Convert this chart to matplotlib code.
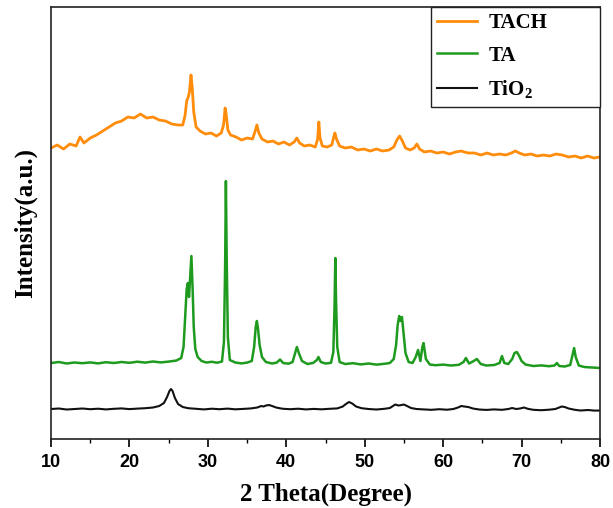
"""XRD patterns of TiO2, TA and TACH (stacked, arbitrary intensity units)."""

import matplotlib
matplotlib.use("Agg")
import matplotlib.pyplot as plt
from matplotlib.ticker import MultipleLocator

plt.rcParams["mathtext.fontset"] = "custom"
plt.rcParams["mathtext.rm"] = "Liberation Serif:bold"
plt.rcParams["mathtext.it"] = "Liberation Serif:bold"
plt.rcParams["mathtext.bf"] = "Liberation Serif:bold"

# --- data (2 theta in degrees, intensity in a.u.) ---
two_theta_tio2 = [10, 11, 12, 13, 14, 15, 16, 17, 18, 19, 20, 21, 22, 23, 23.8,
                  24.4, 24.8, 25.1, 25.3, 25.5, 25.8, 26.2, 26.8, 27.5, 28.5,
                  29.5, 30.5, 31.5, 32.5, 33.5, 34.5, 35.5, 36.3, 36.8, 37.1,
                  37.4, 37.8, 38.2, 38.7, 39.5, 40.5, 41.5, 42.5, 43.5, 44.5,
                  45.5, 46.5, 47.2, 47.6, 48.0, 48.4, 48.9, 49.6, 50.5, 51.5,
                  52.5, 53.2, 53.6, 53.9, 54.3, 54.7, 55.0, 55.4, 55.9, 56.6,
                  57.5, 58.5, 59.5, 60.5, 61.3, 61.9, 62.3, 62.7, 63.2, 63.8,
                  64.6, 65.5, 66.5, 67.5, 68.3, 68.8, 69.3, 69.8, 70.3, 70.8,
                  71.5, 72.5, 73.5, 74.3, 74.8, 75.1, 75.5, 76.0, 76.8, 77.5,
                  78.5, 79.3, 80]
intensity_tio2 = [28, 28.5, 27.5, 28, 28.5, 27.8, 28.3, 27.6, 28.2, 28.6, 27.9,
                  28.4, 28.8, 29.5, 31, 34, 40, 46, 48, 46, 39, 33, 30, 28.8,
                  28.2, 27.6, 28.3, 27.8, 28.4, 27.7, 28.1, 28.6, 29.5, 31,
                  30.5, 31.5, 32, 31, 29.5, 28.3, 27.8, 28.3, 27.6, 28.1, 27.7,
                  28.2, 28.6, 30.5, 33, 35, 33.5, 30.5, 28.8, 28.0, 27.5, 28.2,
                  29.0, 31, 32.5, 31.5, 32, 32.5, 31, 29, 28, 27.6, 27.2, 27.8,
                  27.3, 28, 29.5, 31, 30.5, 30, 28.5, 27.5, 27.1, 27.6, 27.2,
                  28, 29, 28, 28.5, 29.5, 28.2, 27.2, 26.8, 27.3, 28, 29.5,
                  30.5, 30, 28.5, 27.2, 26.5, 27, 26.4, 26.5]

two_theta_ta = [10, 11, 12, 13, 14, 15, 16, 17, 18, 19, 20, 21, 22, 23, 24, 25,
                26, 26.6, 26.9, 27.1, 27.3, 27.45, 27.6, 27.75, 27.9, 28.05,
                28.2, 28.4, 28.7, 29.2, 29.8, 30.5, 31.2, 31.8, 32.05, 32.2,
                32.3, 32.4, 32.55, 32.8, 33.5, 34.3, 35.0, 35.6, 35.9, 36.1,
                36.25, 36.4, 36.6, 36.9, 37.4, 38.2, 38.8, 39.2, 39.6, 40.3,
                40.8, 41.1, 41.35, 41.6, 42.0, 42.7, 43.4, 43.9, 44.1, 44.4,
                45.0, 45.7, 46.0, 46.15, 46.25, 46.35, 46.5, 46.8, 47.5, 48.5,
                49.5, 50.5, 51.5, 52.5, 53.2, 53.7, 54.0, 54.2, 54.4, 54.55,
                54.75, 54.95, 55.2, 55.6, 56.1, 56.5, 56.8, 57.1, 57.35, 57.5,
                57.8, 58.3, 59.0, 60.0, 61.0, 62.0, 62.6, 62.9, 63.3, 63.9,
                64.3, 64.8, 65.5, 66.5, 67.2, 67.5, 67.8, 68.3, 68.8, 69.1,
                69.4, 69.7, 70.0, 70.5, 71.5, 72.5, 73.5, 74.2, 74.5, 74.8,
                75.5, 76.2, 76.5, 76.7, 76.9, 77.3, 78.0, 79.0, 80]
intensity_ta = [74, 75, 73.5, 74.5, 73.8, 74.6, 73.6, 74.8, 74, 75, 74.2, 75.3,
                74.4, 75.5, 74.6, 75.4, 76.5, 79, 90, 120, 148, 154, 140, 160,
                181, 150, 110, 88, 80, 76, 74.5, 75.2, 74.3, 75.5, 95, 170,
                256, 180, 100, 77, 74.5, 73.6, 74.4, 76, 90, 110, 116, 108, 92,
                80, 75, 73.5, 74.5, 77.5, 74, 73.3, 75, 83, 90, 84, 76, 73, 74,
                77, 80, 75, 73.5, 74.2, 85, 130, 179, 135, 90, 75, 73, 73.8,
                72.6, 73.5, 72.4, 73.2, 74, 78, 92, 112, 121, 116, 120, 104,
                84, 75, 74, 80, 87, 76, 90, 94, 78, 72.5, 71.8, 72.4, 71.5,
                72.2, 75, 79, 73.5, 76, 78, 73, 71.5, 72, 74, 81, 74, 73, 78,
                84, 85, 81, 76, 72.5, 71, 71.6, 70.8, 71.5, 74, 71, 70.5, 72,
                82, 89, 80, 71.5, 70, 69.5, 69]

two_theta_tach = [10, 10.8, 11.6, 12.4, 13.2, 13.7, 14.2, 15, 15.8, 16.6, 17.4,
                  18.2, 19, 19.8, 20.6, 21.4, 22.2, 23, 23.8, 24.6, 25.4, 26.2,
                  26.8, 27.1, 27.3, 27.5, 27.65, 27.85, 28.0, 28.2, 28.5, 29,
                  29.7, 30.4, 31.1, 31.7, 32.0, 32.2, 32.35, 32.55, 32.9, 33.6,
                  34.3, 35, 35.7, 36.0, 36.25, 36.5, 36.9, 37.6, 38.3, 39,
                  39.7, 40.4, 41.0, 41.35, 41.7, 42.3, 43, 43.7, 44.0, 44.15,
                  44.3, 44.6, 45.2, 45.8, 46.05, 46.2, 46.4, 46.8, 47.5, 48.3,
                  49.1, 49.9, 50.7, 51.5, 52.3, 53.1, 53.7, 54.1, 54.45, 54.8,
                  55.2, 55.8, 56.3, 56.65, 57.0, 57.6, 58.4, 59.2, 60, 60.8,
                  61.6, 62.3, 62.7, 63.2, 64, 64.8, 65.6, 66.4, 67.2, 68, 68.7,
                  69.2, 69.7, 70.4, 71.2, 72, 72.8, 73.6, 74.4, 75.2, 76, 76.8,
                  77.6, 78.4, 79.2, 80]
intensity_tach = [289, 292, 288, 293, 291, 300, 294, 299, 302, 306, 310, 314,
                  316, 320, 319, 323, 319, 320, 317, 316, 313, 312, 312, 322,
                  336, 340, 345, 362, 350, 325, 310, 306, 303, 304, 301, 304,
                  312, 329, 322, 307, 302, 300, 297, 299, 298, 305, 312, 304,
                  298, 295, 296, 293, 295, 292, 295, 299, 294, 291, 292, 290,
                  298, 315, 299, 291, 290, 292, 300, 304, 298, 291, 289, 290,
                  287, 288, 286, 288, 286, 287, 290, 297, 301, 296, 289, 287,
                  289, 293, 288, 285, 286, 284, 285, 283, 285, 286, 285, 284,
                  284, 282, 284, 282, 283, 282, 284, 286, 284, 282, 283, 281,
                  282, 281, 283, 282, 280, 281, 279, 281, 279, 280]

labels = ["TACH", "TA", "TiO$_2$"]
x_ticks = [10, 20, 30, 40, 50, 60, 70, 80]

fig = plt.figure(figsize=(6.13, 5.08), dpi=100)
ax = fig.add_axes([0.0832, 0.1358, 0.8956, 0.8504])

ax.plot(two_theta_tach, intensity_tach, color="#FF8C0A", lw=2.0, label=labels[0])
ax.plot(two_theta_ta, intensity_ta, color="#1E9A1E", lw=1.8, label=labels[1])
ax.plot(two_theta_tio2, intensity_tio2, color="#111111", lw=1.5, label=labels[2])

ax.set_xlim(10, 80)
ax.set_ylim(-2, 430)
ax.set_xticks(x_ticks)
ax.xaxis.set_minor_locator(MultipleLocator(5))
ax.set_yticks([])
ax.tick_params(axis="x", which="major", direction="out", length=6, width=1.2,
               pad=5)
ax.tick_params(axis="x", which="minor", direction="out", length=3.2, width=1.0)
for lbl in ax.get_xticklabels():
    lbl.set_fontfamily("Liberation Sans")
    lbl.set_fontweight("bold")
    lbl.set_fontsize(13)
for sp in ax.spines.values():
    sp.set_linewidth(1.2)
    sp.set_color("#222222")

ax.set_xlabel("2 Theta(Degree)", family="Liberation Serif", weight="bold",
              fontsize=18, labelpad=8)
ax.set_ylabel("Intensity(a.u.)", family="Liberation Serif", weight="bold",
              fontsize=18, labelpad=10)

leg = ax.legend(loc="upper left", bbox_to_anchor=(0.692, 0.761, 0.308, 0.239),
                mode="expand", borderaxespad=0, borderpad=0.3,
                handlelength=1.9, handletextpad=0.55, labelspacing=0.6,
                fancybox=False, framealpha=1,
                prop={"family": "Liberation Serif", "weight": "bold",
                      "size": 15})
leg._legend_box.align = "left"
leg.get_frame().set_edgecolor("#222222")
leg.get_frame().set_linewidth(1.0)

fig.savefig("out.png", dpi=100)
